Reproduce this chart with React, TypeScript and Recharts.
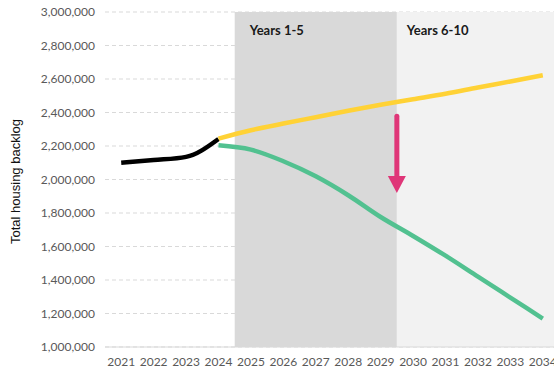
import React from "react";
import {
  LineChart,
  Line,
  XAxis,
  YAxis,
  CartesianGrid,
  ReferenceArea,
  ReferenceLine,
} from "recharts";

// values
const years = [2021, 2022, 2023, 2024, 2025, 2026, 2027, 2028, 2029, 2030, 2031, 2032, 2033, 2034];
const historic = [2100000, 2116000, 2135000, 2242000];
const noAction = [2244000, 2294000, 2334000, 2372000, 2410000, 2446000, 2479000, 2512000, 2549000, 2585000, 2622000];
const withPlan = [2204000, 2178000, 2109000, 2019000, 1906000, 1776000, 1663000, 1545000, 1420000, 1295000, 1170000];
const yTicks = [1000000, 1200000, 1400000, 1600000, 1800000, 2000000, 2200000, 2400000, 2600000, 2800000, 3000000];

const data = years.map((year, i) => ({
  year,
  historic: i < historic.length ? historic[i] : undefined,
  noAction: i >= 3 ? noAction[i - 3] : undefined,
  withPlan: i >= 3 ? withPlan[i - 3] : undefined,
}));

const tickStyle = { fill: "#595959", fontSize: 12, fontFamily: "Lato, sans-serif" };

// eslint-disable-next-line @typescript-eslint/no-explicit-any
const areaLabel = (text: string, dx: number) => (props: any) => {
  const { viewBox } = props;
  return (
    <text
      x={viewBox.x + dx}
      y={viewBox.y + 23}
      fill="#1a1a1a"
      fontSize={13}
      fontWeight={700}
      fontFamily="Lato, sans-serif"
    >
      {text}
    </text>
  );
};

// eslint-disable-next-line @typescript-eslint/no-explicit-any
const YTitle = (props: any) => {
  const { viewBox } = props;
  const cx = 15;
  const cy = viewBox.y + viewBox.height / 2 + 2;
  return (
    <text
      x={cx}
      y={cy}
      transform={`rotate(-90, ${cx}, ${cy})`}
      textAnchor="middle"
      dominantBaseline="central"
      fontSize={13}
      fill="#111"
      fontFamily="'Liberation Sans', Arial, sans-serif"
    >
      Total housing backlog
    </text>
  );
};

// eslint-disable-next-line @typescript-eslint/no-explicit-any
const DownArrow = (props: any) => {
  const { x1, y1, x2, y2 } = props;
  const head = 17;
  return (
    <g>
      <line x1={x1} y1={y1} x2={x2} y2={y2 - head} stroke="#df3678" strokeWidth={5} strokeLinecap="round" />
      <polygon points={`${x2 - 9},${y2 - head} ${x2 + 9},${y2 - head} ${x2},${y2}`} fill="#df3678" />
    </g>
  );
};

export default function App() {
  return (
    <div style={{ position: "absolute", left: 0, top: 0, width: 554, height: 369, overflow: "hidden", background: "#fff" }}>
      <LineChart width={572} height={369} data={data} margin={{ top: 12, right: 13, left: 0, bottom: 0 }}>
        <CartesianGrid horizontal vertical={false} stroke="#d9d9d9" strokeDasharray="4 3" />
        <ReferenceArea x1={2024.5} x2={2029.5} y1={1000000} y2={3000000} fill="#d9d9d9" fillOpacity={1} label={areaLabel("Years 1-5", 15)} />
        <ReferenceArea x1={2029.5} x2={2034.5} y1={1000000} y2={3000000} fill="#f2f2f2" fillOpacity={1} label={areaLabel("Years 6-10", 10)} />
        <XAxis
          dataKey="year"
          type="number"
          domain={[2020.5, 2034.5]}
          ticks={years}
          tickLine={false}
          tickMargin={4}
          axisLine={{ stroke: "#d9d9d9" }}
          tick={tickStyle}
          height={22}
          interval={0}
        />
        <YAxis
          domain={[1000000, 3000000]}
          ticks={yTicks}
          width={105}
          axisLine={false}
          tickLine={false}
          tickMargin={4}
          tick={tickStyle}
          tickFormatter={(v) => v.toLocaleString("en-US")}
          label={YTitle}
        />
        <Line dataKey="historic" type="monotone" stroke="#000" strokeWidth={4.5} dot={false} isAnimationActive={false} />
        <Line dataKey="noAction" type="monotone" stroke="#ffd236" strokeWidth={4.5} dot={false} isAnimationActive={false} />
        <Line dataKey="withPlan" type="monotone" stroke="#52c190" strokeWidth={4.5} dot={false} isAnimationActive={false} />
        <ReferenceLine
          segment={[
            { x: 2029.5, y: 2377000 },
            { x: 2029.5, y: 1919000 },
          ]}
          stroke="#df3678"
          shape={DownArrow}
        />
      </LineChart>
    </div>
  );
}
